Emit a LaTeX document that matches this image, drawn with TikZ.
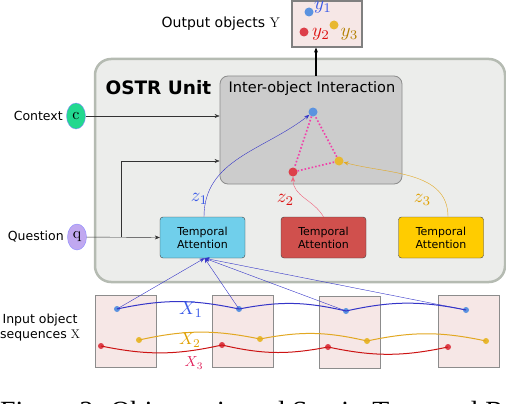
\RequirePackage{fix-cm}
\documentclass[tikz,border=0pt]{standalone}
\usepackage{fontspec}
\setsansfont{DejaVu Sans}
\newfontfamily\capfont{Liberation Serif}
\usetikzlibrary{arrows.meta,positioning,shapes.geometric}
\definecolor{unitfill}{HTML}{ECEDEB}
\definecolor{unitdraw}{HTML}{B5BBB2}
\definecolor{interfill}{HTML}{CCCCCC}
\definecolor{pinkfill}{HTML}{F6E7E6}
\definecolor{tablue}{HTML}{70CFEB}
\definecolor{tared}{HTML}{D0504D}
\definecolor{tayellow}{HTML}{FFCC00}
\definecolor{dotblue}{HTML}{5B93E0}
\definecolor{dotred}{HTML}{DD3F4A}
\definecolor{dotyellow}{HTML}{E8B830}
\definecolor{lineblue}{HTML}{3535C8}
\definecolor{linered}{HTML}{CC1414}
\definecolor{lineyellow}{HTML}{E2A822}
\definecolor{linepink}{HTML}{F0607A}
\definecolor{labblue}{HTML}{3A5AE8}
\definecolor{labred}{HTML}{DD1111}
\definecolor{labyellow}{HTML}{E0A000}
\definecolor{labcrimson}{HTML}{E0205A}
\definecolor{ctxgreen}{HTML}{22D88F}
\definecolor{qpurple}{HTML}{C0A8F0}
\newcommand{\biglab}[2]{\scalebox{#1}{\fontsize{10}{10}\selectfont$#2$}}

\begin{document}
\begin{tikzpicture}[x=1pt,y=1pt,font=\sffamily,
    arr/.style={-{Stealth[length=5pt,width=4pt]}},
    tabox/.style={draw=black!75,rounded corners=3pt,minimum width=85pt,minimum height=41pt,
      align=center,font=\sffamily\fontsize{11}{13}\selectfont,fill=#1},
    seqbox/.style={draw=black!45,line width=0.8pt,fill=pinkfill,minimum width=61pt,minimum height=72pt},
    dot/.style={circle,fill=#1,inner sep=0pt,minimum size=9pt},
    sdot/.style={circle,fill=#1,inner sep=0pt,minimum size=6pt},
    inp/.style={ellipse,draw=blue!45,inner sep=0pt,minimum width=19pt,minimum height=26pt,fill=#1},
    side/.style={font=\sffamily\fontsize{12.5}{15}\selectfont,align=center},
    mlab/.style={inner sep=0pt}]
  \useasboundingbox (0,0) rectangle (506,-404);
  \clip (0,0) rectangle (506,-404);

  % output objects
  \node[draw=black!50,line width=1.2pt,fill=pinkfill,minimum width=70pt,minimum height=46pt] (outbox) at (327,-24) {};
  \node[font=\sffamily\fontsize{14}{14}\selectfont,left=8pt of outbox] (outlab) {Output objects $\mathrm{Y}$};
  \node[dot=dotblue] (y1) at (309,-12) {};
  \node[dot=dotred] (y2) at (304,-32) {};
  \node[dot=dotyellow] (y3) at (334,-25) {};
  \node[mlab,text=labblue] (y1lab) at (323,-7) {\biglab{1.9}{y_1}};
  \node[mlab,text=labred] (y2lab) at (321,-34) {\biglab{1.9}{y_2}};
  \node[mlab,text=labyellow!80!black] (y3lab) at (349.5,-34) {\biglab{1.9}{y_3}};

  % OSTR unit
  \node[draw=unitdraw,line width=2.5pt,fill=unitfill,rounded corners=16pt,
        minimum width=410pt,minimum height=223pt] (unit) at (300,-170.5) {};
  \node[anchor=west,font=\sffamily\bfseries\fontsize{18.5}{18.5}\selectfont] (unitlab) at (102,-88) {OSTR Unit};
  \node[draw=black!45,line width=0.8pt,fill=interfill,rounded corners=8pt,
        minimum width=182pt,minimum height=108pt] (inter) at (311,-130) {};
  \node[font=\sffamily\fontsize{14.5}{14.5}\selectfont] (interlab) at (312,-88) {Inter-object Interaction};
  \node[dot=dotblue] (o1) at (313,-112) {};
  \node[dot=dotred] (o2) at (293,-172) {};
  \node[dot=dotyellow] (o3) at (339,-161) {};
  \draw[magenta!75,line width=1.6pt,dotted] (o1) -- (o2) -- (o3) -- (o1);
  \draw[arr,line width=1.3pt] ([xshift=5pt]inter.north) -- ([xshift=5pt]inter.north |- outbox.south);

  \node[tabox=tablue] (ta1) at (202.5,-237.5) {Temporal\\Attention};
  \node[tabox=tared] (ta2) at (323.5,-237.5) {Temporal\\Attention};
  \node[tabox=tayellow] (ta3) at (441,-237.5) {Temporal\\Attention};

  \draw[arr,lineblue] ([xshift=1.5pt]ta1.north) to[out=90,in=218] (o1);
  \draw[arr,linepink] (ta2.north) to[out=120,in=-90] (o2);
  \draw[arr,lineyellow] ([xshift=7pt]ta3.north) to[out=90,in=-15] (o3);
  \node[mlab,text=labblue] (z1) at (199.5,-199) {\biglab{1.9}{z_1}};
  \node[mlab,text=labred] (z2) at (285.5,-200) {\biglab{1.9}{z_2}};
  \node[mlab,text=labyellow] (z3) at (422.5,-200) {\biglab{1.9}{z_3}};

  % context and question
  \node[inp=ctxgreen] (ctx) at (76,-116) {\biglab{1.6}{\mathrm{c}}};
  \node[side,left=0pt of ctx] (ctxlab) {Context};
  \node[inp=qpurple] (qst) at (77,-237) {\biglab{1.6}{\mathrm{q}}};
  \node[side,left=0pt of qst] (qstlab) {Question};
  \coordinate (br) at (121,-237);
  \draw[arr,black!80] (ctx) -- (ctx -| inter.west);
  \draw[arr,black!80] (qst) -- (ta1.west);
  \draw[arr,black!80] (br) |- (inter.west |- 0,-161);

  % input object sequences
  \node[seqbox] (s1) at (125.5,-331) {};
  \node[seqbox] (s2) at (242.5,-331) {};
  \node[seqbox] (s3) at (349.5,-332.5) {};
  \node[seqbox] (s4) at (468.5,-331.5) {};
  \node[side] (inlab) at (40,-328) {Input object\\sequences $\mathrm{X}$};

  \node[sdot=dotblue] (b1) at (117,-309) {};
  \node[sdot=dotblue] (b2) at (239,-309) {};
  \node[sdot=dotblue] (b3) at (346,-311) {};
  \node[sdot=dotblue] (b4) at (466,-310) {};
  \node[sdot=dotyellow] (g1) at (139,-340) {};
  \node[sdot=dotyellow] (g2) at (260,-339) {};
  \node[sdot=dotyellow] (g3) at (367,-341) {};
  \node[sdot=dotyellow] (g4) at (486,-341) {};
  \node[sdot=dotred] (r1) at (101,-346) {};
  \node[sdot=dotred] (r2) at (222,-345) {};
  \node[sdot=dotred] (r3) at (328,-347) {};
  \node[sdot=dotred] (r4) at (448,-347) {};

  \draw[lineblue,line width=1pt] (b1.center) to[bend left=12] (b2.center) to[bend left=12] (b3.center) to[bend left=12] (b4.center);
  \draw[lineyellow,line width=1pt] (g1.center) to[bend left=12] (g2.center) to[bend left=12] (g3.center) to[bend left=12] (g4.center);
  \draw[linered,line width=1pt] (r1.center) to[bend right=12] (r2.center) to[bend right=12] (r3.center) to[bend right=12] (r4.center);
  \node[mlab,text=labblue] (x1) at (191,-310) {\biglab{1.85}{X_1}};
  \node[mlab,text=labyellow] (x2) at (190,-340) {\biglab{1.7}{X_2}};
  \node[mlab,text=labcrimson] (x3) at (194,-363) {\biglab{1.45}{X_3}};
  \foreach \b in {b1,b2,b3,b4}
    \draw[arr,lineblue] (\b.center) -- ([xshift=2pt]ta1.south);

  % caption, cut by the page edge
  \node[anchor=base west,inner sep=0pt,font=\capfont\fontsize{27.8}{28}\selectfont] (cap) at (0,-420.5)
    {Figure 2: Object-oriented Spatio-Temporal Reasoning};
\end{tikzpicture}
\end{document}
